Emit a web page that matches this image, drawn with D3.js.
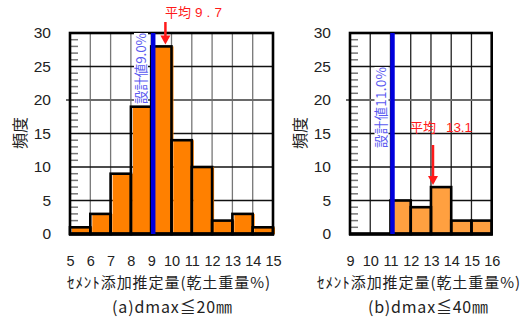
<!DOCTYPE html>
<html>
<head>
<meta charset="utf-8">
<script src="https://cdn.jsdelivr.net/npm/d3@7"></script>
<style>
  html, body { margin: 0; padding: 0; background: #fff; }
  svg { display: block; }
  text { font-family: "Liberation Sans", "Noto Sans CJK JP", sans-serif; }
  .jp { font-family: "Noto Sans CJK JP", sans-serif; }
</style>
</head>
<body>
<svg id="chart" width="526" height="320"></svg>
<script>
// Histogram of estimated cement addition rate, two particle-size groups
const binsA = [5, 6, 7, 8, 9, 10, 11, 12, 13, 14];
const countsA = [1, 3, 9, 19, 28, 14, 10, 2, 3, 1];
const designA = 9.0;
const meanA = 9.7;
const xTicksA = [5, 6, 7, 8, 9, 10, 11, 12, 13, 14, 15];

const binsB = [9, 10, 11, 12, 13, 14, 15];
const countsB = [0, 0, 5, 4, 7, 2, 2];
const designB = 11.0;
const meanB = 13.1;
const xTicksB = [9, 10, 11, 12, 13, 14, 15, 16];

const yTicks = [0, 5, 10, 15, 20, 25, 30];
const yLabel = "頻度";
const xLabel = "ｾﾒﾝﾄ添加推定量(乾土重量%)";

const svg = d3.select("#chart");

// stretch or squeeze a text run to a given width via letter spacing
function fit(sel, width) {
  const node = sel.node();
  const n = sel.text().length;
  const w = node.getComputedTextLength();
  if (n > 1) sel.attr("letter-spacing", (width - w) / (n - 1));
  return sel;
}

function panel(opt) {
  const g = svg.append("g");
  const x = d3.scaleLinear().domain(opt.domain).range([opt.left, opt.right]);
  const y = d3.scaleLinear().domain([0, 30]).range([234, 33]);
  const [x0, x1] = x.range();
  const [yb, yt] = y.range();

  // vertical grid
  g.selectAll(".vg").data(d3.range(opt.domain[0] + 1, opt.domain[1]))
    .join("line")
    .attr("x1", d => x(d)).attr("x2", d => x(d))
    .attr("y1", yt).attr("y2", yb)
    .attr("stroke", opt.vGrid).attr("stroke-width", 1.3);

  // horizontal grid
  g.selectAll(".hg").data([5, 10, 15, 25])
    .join("line")
    .attr("x1", x0).attr("x2", x1)
    .attr("y1", d => y(d)).attr("y2", d => y(d))
    .attr("stroke", "#111").attr("stroke-width", 1.3);
  g.append("line")
    .attr("x1", x0 - 4).attr("x2", x1)
    .attr("y1", y(20)).attr("y2", y(20))
    .attr("stroke", "#6a6a6a").attr("stroke-width", 2);

  // minor ticks
  g.selectAll(".mt").data(d3.range(1, 30).filter(d => d % 5 !== 0))
    .join("line")
    .attr("x1", x0).attr("x2", x0 + 8)
    .attr("y1", d => y(d)).attr("y2", d => y(d))
    .attr("stroke", "#777").attr("stroke-width", 1.5);

  // bars
  const bars = opt.bins.map((b, i) => ({ b, v: opt.counts[i] })).filter(d => d.v > 0);
  g.selectAll(".bf").data(bars).join("rect")
    .attr("x", d => x(d.b) + opt.fillShift)
    .attr("y", d => y(d.v))
    .attr("width", d => x(d.b + 1) - x(d.b))
    .attr("height", d => y(0) - y(d.v))
    .attr("fill", opt.color);
  g.selectAll(".bo").data(bars).join("rect")
    .attr("x", d => x(d.b))
    .attr("y", d => y(d.v))
    .attr("width", d => x(d.b + 1) - x(d.b))
    .attr("height", d => y(0) - y(d.v))
    .attr("fill", "none")
    .attr("stroke", "#000").attr("stroke-width", 2.6);

  // frame
  g.append("rect")
    .attr("x", x0).attr("y", yt)
    .attr("width", x1 - x0).attr("height", yb - yt)
    .attr("fill", "none").attr("stroke", "#000").attr("stroke-width", 2.6);
  g.append("line")
    .attr("x1", x0 - 1).attr("x2", x1 + 1)
    .attr("y1", yb).attr("y2", yb)
    .attr("stroke", "#000").attr("stroke-width", 3.5);

  // design value line
  const dx = x(opt.design) + 2;
  g.append("line")
    .attr("x1", dx).attr("x2", dx)
    .attr("y1", yt).attr("y2", yb)
    .attr("stroke", "#0000dd").attr("stroke-width", 4.5);

  // design value label (vertical, on white)
  g.append("rect")
    .attr("x", opt.designLx - 7).attr("y", opt.designTop)
    .attr("width", 14).attr("height", opt.designLen + 1)
    .attr("fill", "#fff");
  const dl = g.append("text")
    .attr("class", "jp")
    .attr("transform", `translate(${opt.designLx},${opt.designTop + opt.designLen}) rotate(-90)`)
    .attr("dy", "0.36em")
    .attr("font-size", 13.5)
    .attr("fill", "#5a5af0")
    .text(`設計値${opt.design.toFixed(1)}%`);
  fit(dl, opt.designLen);

  // mean label and arrow
  const mx = x(opt.mean);
  const topBin = opt.bins.findIndex(b => opt.mean >= b && opt.mean < b + 1);
  const tip = y(opt.counts[topBin]) - 2;
  g.append("text")
    .attr("class", "jp")
    .attr("x", opt.meanLx).attr("y", opt.meanLy)
    .attr("font-size", 13)
    .attr("fill", "#ff1a1a")
    .text("平均");
  const mv = g.append("text")
    .attr("x", opt.meanVx).attr("y", opt.meanLy)
    .attr("font-size", 13.5)
    .attr("fill", "#ff1a1a")
    .text(opt.mean.toFixed(1));
  fit(mv, opt.meanVw);
  g.append("line")
    .attr("x1", mx).attr("x2", mx)
    .attr("y1", opt.arrowTop).attr("y2", tip - 6)
    .attr("stroke", "#ff1a1a").attr("stroke-width", 2.5);
  g.append("path")
    .attr("d", `M${mx - 5},${tip - 9} L${mx + 5},${tip - 9} L${mx},${tip} Z`)
    .attr("fill", "#ff1a1a");

  // y axis
  const ya = g.append("g")
    .attr("transform", `translate(${opt.yLabelRight},0)`)
    .call(d3.axisLeft(y).tickValues(yTicks).tickSize(0).tickPadding(0));
  ya.select(".domain").remove();
  ya.selectAll("text").attr("font-size", 15.5).attr("fill", "#222")
    .attr("font-family", "Liberation Sans, sans-serif");

  // x axis
  const xa = g.append("g")
    .attr("transform", `translate(0,${yb})`)
    .call(d3.axisBottom(x).tickValues(opt.xTicks).tickFormat(d3.format("d")).tickSize(0).tickPadding(22));
  xa.select(".domain").remove();
  xa.selectAll("text").attr("font-size", 14.5).attr("fill", "#222")
    .attr("font-family", "Liberation Sans, sans-serif");

  // y title, rotated to read bottom-to-top
  g.append("text")
    .attr("class", "jp")
    .attr("transform", `translate(${opt.yTitleX},133) rotate(-90)`)
    .attr("text-anchor", "middle")
    .attr("dy", "0.36em")
    .attr("font-size", 16)
    .attr("fill", "#222")
    .text(yLabel);

  // x title
  const xt = g.append("text")
    .attr("class", "jp")
    .attr("x", opt.xTitleX).attr("y", 288)
    .attr("font-size", 15)
    .attr("fill", "#222")
    .text(xLabel);
  fit(xt, 203);

  // panel caption
  const cp = g.append("text")
    .attr("class", "jp")
    .attr("x", opt.capX).attr("y", 313)
    .attr("font-size", 16)
    .attr("fill", "#222")
    .text(opt.caption);
  fit(cp, 120);
}

panel({
  domain: [5, 15], left: 70, right: 273,
  bins: binsA, counts: countsA, design: designA, mean: meanA, xTicks: xTicksA,
  color: "#ff8000", fillShift: 2, vGrid: "#777",
  designLx: 141, designTop: 33, designLen: 71,
  meanLx: 165, meanVx: 195, meanVw: 27, meanLy: 17, arrowTop: 22,
  yLabelRight: 51, yTitleX: 20, xTitleX: 67, capX: 112,
  caption: "(a)dmax≦20㎜"
});

panel({
  domain: [9, 16], left: 350, right: 491.7,
  bins: binsB, counts: countsB, design: designB, mean: meanB, xTicks: xTicksB,
  color: "#ffa040", fillShift: 0, vGrid: "#222",
  designLx: 381.5, designTop: 67, designLen: 81,
  meanLx: 410, meanVx: 446, meanVw: 26, meanLy: 132, arrowTop: 145,
  yLabelRight: 331, yTitleX: 300, xTitleX: 317, capX: 368,
  caption: "(b)dmax≦40㎜"
});
</script>
</body>
</html>
